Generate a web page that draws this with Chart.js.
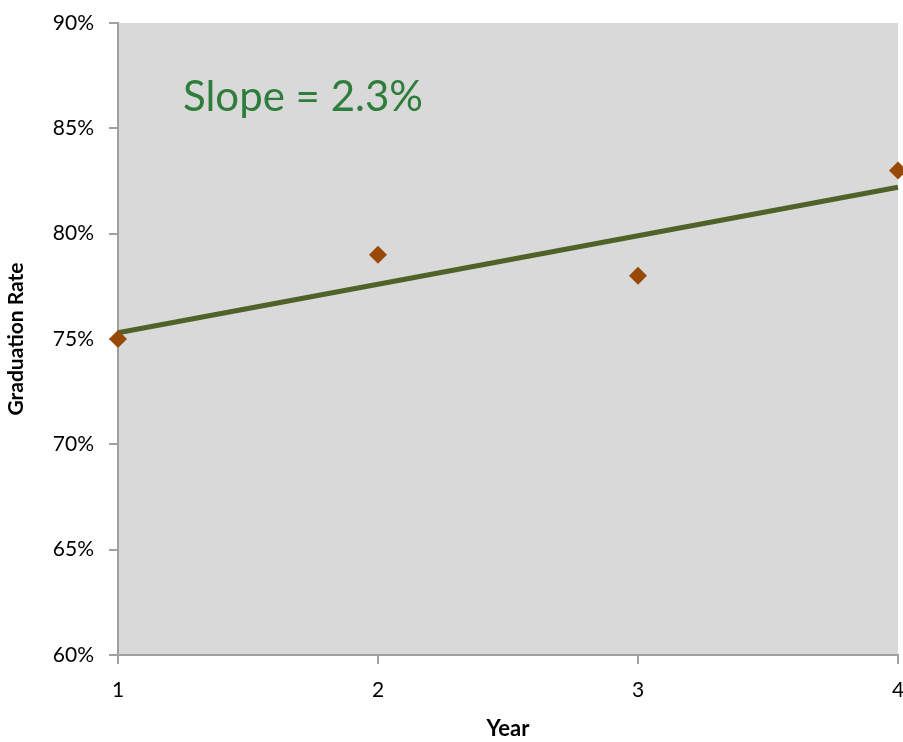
<!DOCTYPE html>
<html>
<head>
<meta charset="utf-8">
<script src="https://cdn.jsdelivr.net/npm/chart.js@4"></script>
<style>
  html, body { margin: 0; padding: 0; background: #fff; overflow: hidden; }
  #wrap { width: 903px; height: 742px; }
  canvas { display: block; }
</style>
</head>
<body>
<div id="wrap"><canvas id="myChart" width="903" height="742"></canvas></div>
<script>
// Data
const years = [1, 2, 3, 4];
const rates = [75, 79, 78, 83];
const trendYears = [1, 4];
const trendRates = [75.3, 82.2];
const yTicks = [60, 65, 70, 75, 80, 85, 90];
const slopeLabel = "Slope = 2.3%";

const fontFamily = "Lato, 'Open Sans', sans-serif";

// Grey plot area + slope label
const plotDecor = {
  id: "plotDecor",
  beforeDraw(chart) {
    const { ctx, chartArea } = chart;
    ctx.save();
    ctx.fillStyle = "#D9D9D9";
    ctx.fillRect(chartArea.left, chartArea.top, chartArea.right - chartArea.left, chartArea.bottom - chartArea.top);
    ctx.restore();
  },
  afterDatasetsDraw(chart) {
    const { ctx } = chart;
    const xs = chart.scales.x;
    const ys = chart.scales.y;
    ctx.save();
    ctx.fillStyle = "#2E7D3B";
    ctx.font = "42px " + fontFamily;
    ctx.textAlign = "left";
    ctx.textBaseline = "alphabetic";
    ctx.fillText(slopeLabel, xs.getPixelForValue(1.25), ys.getPixelForValue(85.8));
    ctx.restore();
  }
};

const chartData = {
  datasets: [
    {
      type: "scatter",
      label: "Graduation Rate",
      data: years.map((x, i) => ({ x: x, y: rates[i] })),
      pointStyle: "rectRot",
      pointRadius: 9,
      pointHoverRadius: 9,
      backgroundColor: "#984807",
      borderColor: "#984807",
      borderWidth: 0,
      clip: false,
      order: 1
    },
    {
      type: "line",
      label: "Trend",
      data: trendYears.map((x, i) => ({ x: x, y: trendRates[i] })),
      borderColor: "#4F6228",
      borderWidth: 5,
      pointRadius: 0,
      fill: false,
      clip: false,
      order: 2
    }
  ]
};

const chartOptions = {
  responsive: false,
  animation: false,
  layout: { autoPadding: false, padding: { top: 23, right: 5, left: 4, bottom: 0 } },
  plugins: { legend: { display: false }, tooltip: { enabled: false } },
  scales: {
    x: {
      type: "linear",
      min: 1,
      max: 4,
      afterBuildTicks(scale) { scale.ticks = years.map(v => ({ value: v })); },
      grid: { drawOnChartArea: false, drawTicks: true, tickLength: 9, color: "#A0A0A0", lineWidth: 2 },
      border: { color: "#A0A0A0", width: 2 },
      ticks: { color: "#000", font: { family: fontFamily, size: 21 }, padding: 14, maxRotation: 0 },
      title: { display: true, text: "Year", color: "#000", font: { family: fontFamily, size: 22, weight: "bold" }, padding: { top: 0, bottom: 0 } },
      afterFit(scale) { scale.height = 87; scale.paddingLeft = 0; scale.paddingRight = 0; }
    },
    y: {
      type: "linear",
      min: 60,
      max: 90,
      afterBuildTicks(scale) { scale.ticks = yTicks.map(v => ({ value: v })); },
      grid: { drawOnChartArea: false, drawTicks: true, tickLength: 9, color: "#A0A0A0", lineWidth: 2 },
      border: { color: "#A0A0A0", width: 2 },
      ticks: { color: "#000", font: { family: fontFamily, size: 21 }, padding: 15, callback: v => v + "%" },
      title: { display: true, text: "Graduation Rate", color: "#000", font: { family: fontFamily, size: 21, weight: "bold" }, padding: { top: 0, bottom: 6 } },
      afterFit(scale) { scale.width = 114; scale.paddingTop = 0; scale.paddingBottom = 0; }
    }
  }
};

const myChart = new Chart(document.getElementById("myChart"), {
  data: chartData,
  options: chartOptions,
  plugins: [plotDecor]
});
</script>
</body>
</html>
